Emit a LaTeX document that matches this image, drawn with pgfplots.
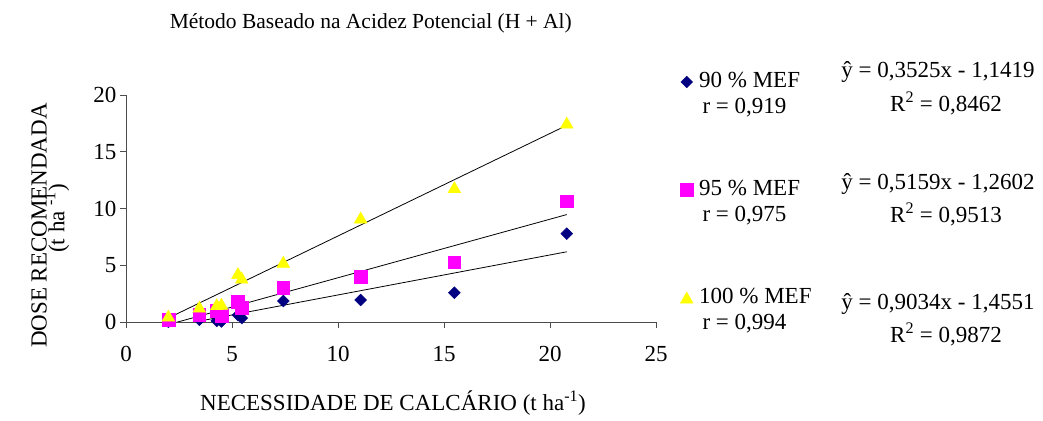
\documentclass[border=0pt]{standalone}
\usepackage{fontspec}
\setmainfont{Liberation Serif}
\usepackage{pgfplots}
\pgfplotsset{compat=1.18}
\definecolor{navyc}{HTML}{000080}
\definecolor{magc}{HTML}{FF00FF}
\definecolor{yelc}{HTML}{FFFF00}
\begin{document}
\begin{tikzpicture}[x=1pt,y=1pt,font=\fontsize{23}{27}\selectfont]
\useasboundingbox (0,0) rectangle (1043,420);
\begin{axis}[
  at={(126pt,98pt)}, anchor=south west,
  scale only axis, width=530pt, height=227pt,
  xmin=0, xmax=25, ymin=0, ymax=20,
  axis x line=bottom, axis y line=left,
  axis line style={-, black!70, line width=0.8pt},
  xtick={0,5,10,15,20,25}, ytick={0,5,10,15,20},
  tick align=outside, major tick length=6pt,
  tick style={black!70, line width=0.8pt},
  /pgf/number format/assume math mode=true,
  ticklabel style={font=\fontsize{23}{27}\selectfont},
  xticklabel style={yshift=-15pt},
  legend cell align=left,
  legend style={draw=none, fill=none, inner sep=0pt,
    at={(axis description cs:1.0455,1.1044)}, anchor=north west,
    row sep=86.85pt, column sep=6pt,
    font=\fontsize{23}{27}\selectfont,
    nodes={inner sep=0pt, text height=16pt, text depth=5pt}},
  legend image code/.code={\draw[#1] plot coordinates {(0pt,0pt)};},
]
\addplot[only marks, mark=square*, mark size=4.2pt, mark options={rotate=45, fill=navyc, draw=navyc}] coordinates {
 (2,0.02) (3.46,0.2) (4.28,0.1) (4.5,0.05) (5.28,0.6) (5.46,0.35) (7.42,1.85) (11.07,1.94) (15.49,2.58) (20.79,7.78)};
\addlegendentry{90 \% MEF}
\addplot[only marks, mark=square*, mark size=6.3pt, mark options={fill=magc, draw=magc}] coordinates {
 (2,0.21) (3.46,0.62) (4.28,1.0) (4.5,0.56) (5.28,1.8) (5.46,1.26) (7.42,3.0) (11.07,4.0) (15.49,5.26) (20.79,10.63)};
\addlegendentry{95 \% MEF}
\addplot[only marks, mark=triangle*, mark size=7.4pt, mark options={yshift=-1.8pt, fill=yelc, draw=yelc}] coordinates {
 (2,0.56) (3.46,1.35) (4.28,1.56) (4.5,1.6) (5.28,4.3) (5.46,3.9) (7.42,5.3) (11.07,9.2) (15.49,11.87) (20.79,17.56)};
\addlegendentry{100 \% MEF}
\addplot[black, line width=0.8pt, forget plot] coordinates {(2,-0.4369) (20.79,6.1866)};
\addplot[black, line width=0.8pt, forget plot] coordinates {(2,-0.2284) (20.79,9.4654)};
\addplot[black, line width=0.8pt, forget plot] coordinates {(2,0.3517) (20.79,17.3266)};
\end{axis}
\node[anchor=base, font=\fontsize{21.5}{25}\selectfont] at (370.8,391) {Método Baseado na Acidez Potencial (H + Al)};
\node[anchor=base] at (393,9.3) {NECESSIDADE DE CALCÁRIO (t ha\textsuperscript{-1})};
\node[anchor=base east, rotate=90, inner sep=0pt] at (46.7,317) {DOSE RECOMENDADA};
\node[anchor=center, rotate=90, inner sep=0pt] at (57,201.7) {(t ha \textsuperscript{-1})};
\node[anchor=base west] at (699,306.7) {r = 0,919};
\node[anchor=base west] at (699,198.3) {r = 0,975};
\node[anchor=base west] at (699,90) {r = 0,994};
\node[anchor=base] at (938,342) {ŷ = 0,3525x - 1,1419};
\node[anchor=base] at (946,308) {R\textsuperscript{2} = 0,8462};
\node[anchor=base] at (938,230.7) {ŷ = 0,5159x - 1,2602};
\node[anchor=base] at (946,197.3) {R\textsuperscript{2} = 0,9513};
\node[anchor=base] at (938,110) {ŷ = 0,9034x - 1,4551};
\node[anchor=base] at (946,77.3) {R\textsuperscript{2} = 0,9872};
\end{tikzpicture}
\end{document}
